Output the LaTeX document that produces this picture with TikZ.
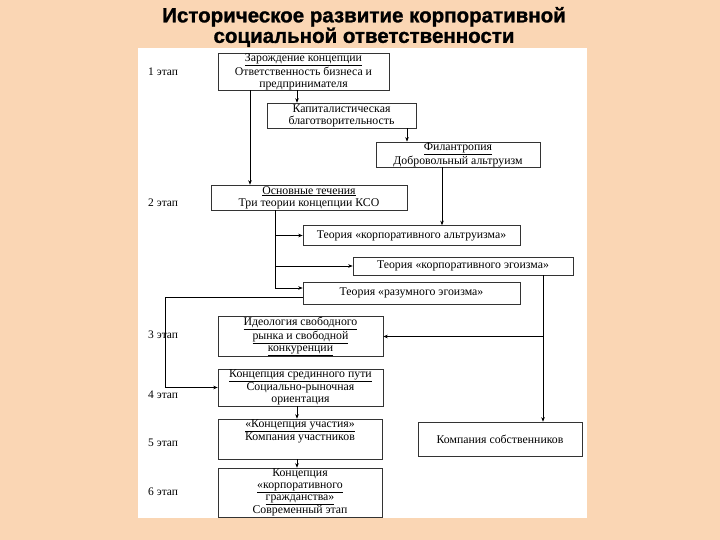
\documentclass[tikz,border=0pt]{standalone}
\usepackage{fontspec}
\setmainfont{Liberation Serif}
\setsansfont{Liberation Sans}[BoldFeatures={FakeBold=1.2}]
\usetikzlibrary{arrows.meta}
\definecolor{peach}{RGB}{250,214,180}
\tikzset{
	box/.style={draw=black!80, line width=0.6pt, fill=white, align=center, inner sep=0.5pt, font=\fontsize{11.8}{12}\selectfont},
	arr/.style={-{Stealth[length=4.5pt,width=3.5pt]}, line width=0.6pt},
	link/.style={line width=0.6pt},
	stage/.style={anchor=west, inner sep=0pt, font=\fontsize{11.5}{12}\selectfont},
}
\begin{document}
\begin{tikzpicture}[x=1pt, y=-1pt]
	\useasboundingbox (0,0) rectangle (720,540);
	\fill [peach] (0,0) rectangle (720,540);
	\fill [white] (138,48) rectangle (587,518);
	\node [font=\sffamily\bfseries\fontsize{20.5}{20.5}\selectfont, align=center] (title) at (364,27) {Историческое развитие корпоративной\\социальной ответственности};
	% stages
	\foreach \n/\y in {1/72,2/203,3/335,4/395,5/443,6/492} {
		\node [stage] (e\n) at (148,\y) {\n{} этап};
	}
	% boxes
	\node [box, minimum width=171pt, minimum height=37pt] (b1) at (303.5,71.5) {\underline{Зарождение концепции}\\Ответственность бизнеса и\\предпринимателя};
	\node [box, minimum width=149pt, minimum height=25pt] (b2) at (341.5,115.5) {Капиталистическая\\благотворительность};
	\node [box, minimum width=164pt, minimum height=25pt] (b3) at (458,154.5) {\underline{Филантропия}\\Добровольный альтруизм};
	\node [box, minimum width=196pt, minimum height=25pt] (b4) at (309,197.5) {\underline{Основные течения}\\Три теории концепции КСО};
	\node [box, minimum width=217pt, minimum height=20pt] (b5) at (411.5,235.5) {Теория «корпоративного альтруизма»};
	\node [box, minimum width=220pt, minimum height=18pt] (b6) at (463,266) {Теория «корпоративного эгоизма»};
	\node [box, minimum width=217pt, minimum height=22pt] (b7) at (411.5,293) {Теория «разумного эгоизма»};
	\node [box, minimum width=165pt, minimum height=37pt] (b8) at (300.5,336.5) {\underline{Идеология свободного}\\\underline{рынка и свободной}\\\underline{конкуренции}};
	\node [box, minimum width=165pt, minimum height=35pt] (b9) at (300.5,387.5) {\underline{Концепция срединного пути}\\Социально-рыночная\\ориентация};
	\node [box, minimum width=164pt, minimum height=34pt] (b10) at (500,439) {Компания собственников};
	\node [box, minimum width=164pt, minimum height=34pt] (b11) at (300,439) {\underline{«Концепция участия»}\\Компания участников\\[6pt]};
	\node [box, minimum width=164pt, minimum height=49pt] (b12) at (300,492.5) {Концепция\\\underline{«корпоративного}\\\underline{гражданства»}\\Современный этап};
	% connectors
	\coordinate (s1) at ([xshift=-6.5pt]b1.south);
	\coordinate (s2) at ([xshift=65.5pt]b2.south);
	\coordinate (s3) at ([xshift=-53.5pt]b1.south);
	\coordinate (s4) at ([xshift=-16pt]b3.south);
	\coordinate (t4) at ([xshift=-34pt]b4.south);
	\coordinate (a7) at ([yshift=5pt]b7.west);
	\coordinate (l7) at ([yshift=-4pt]b7.west);
	\coordinate (lx) at (165,0);
	\coordinate (s6) at ([xshift=80pt]b6.south);
	\coordinate (s9) at ([xshift=-3.5pt]b9.south);
	\draw [arr] (s1) -- (s1 |- b2.north);
	\draw [arr] (s2) -- (s2 |- b3.north);
	\draw [arr] (s3) -- (s3 |- b4.north);
	\draw [arr] (s4) -- (s4 |- b5.north);
	\draw [link] (t4) -- (t4 |- a7);
	\draw [arr] (t4 |- b5.west) -- (b5.west);
	\draw [arr] (t4 |- b6.west) -- (b6.west);
	\draw [arr] (t4 |- a7) -- (a7);
	\draw [arr] (l7) -| (lx |- b9.west) -- (b9.west);
	\draw [arr] (s6) -- (s6 |- b10.north);
	\draw [arr] (s6 |- b8.east) -- (b8.east);
	\draw [arr] (s9) -- (s9 |- b11.north);
	\draw [arr] (s9 |- b11.south) -- (s9 |- b12.north);
\end{tikzpicture}
\end{document}
